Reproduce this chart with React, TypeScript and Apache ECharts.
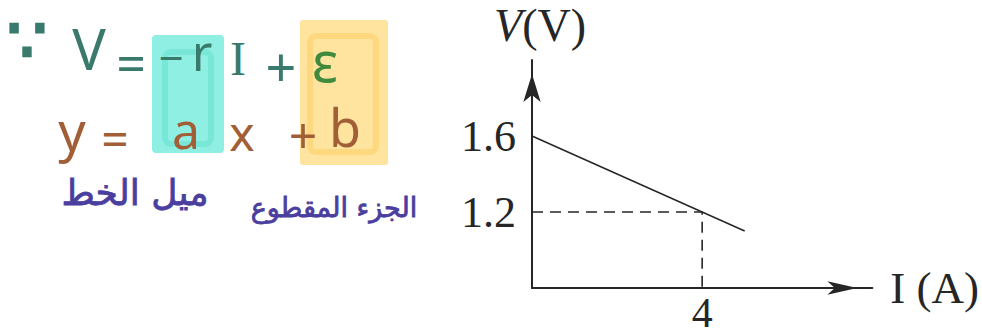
import React, { useEffect, useRef } from "react";
import * as echarts from "echarts";

// Terminal voltage V against current I for a cell: V = ε − rI
const currentA = [0, 5];
const voltageV = [1.6, 1.1];
const readingI = 4;
const readingV = 1.2;
const yTickLabels = ["1.2", "1.6"];
const xTickLabels = ["4"];

const Y_MIN = 0.8;
const Y_MAX = 2.0;
const X_MIN = 0;
const X_MAX = 8;

const INK = "#262626";
const SERIF = "'Liberation Serif', 'DejaVu Serif', serif";
const HAND = "'Noto Sans', 'DejaVu Sans', sans-serif";
const ARABIC = "'DejaVu Sans', 'Noto Sans', sans-serif";

const TEAL = "#3a7a6d";
const GREEN = "#3f8a3c";
const BROWN = "#a25f37";
const PURPLE = "#4a3e9e";

function glyph(text: string, x: number, y: number, size: number, fill: string, font = HAND, bold = 0) {
  return {
    type: "text",
    x,
    y,
    style: {
      text,
      fill,
      fontSize: size,
      fontFamily: font,
      align: "center",
      verticalAlign: "middle",
      stroke: bold ? fill : undefined,
      lineWidth: bold,
    },
  };
}

export default function App() {
  const ref = useRef<HTMLDivElement | null>(null);

  useEffect(() => {
    if (!ref.current) return;
    const chart = echarts.init(ref.current, undefined, { renderer: "svg" });

    const lineData = currentA.map((c, i) => [c, voltageV[i]]);
    const guideData = [
      [X_MIN, readingV],
      [readingI, readingV],
      [readingI, Y_MIN],
    ];

    chart.setOption({
      animation: false,
      backgroundColor: "#ffffff",
      grid: { left: 532, top: 60, width: 342, height: 228, containLabel: false },
      xAxis: {
        type: "value",
        min: X_MIN,
        max: X_MAX,
        interval: 1,
        name: "I (A)",
        nameLocation: "end",
        nameGap: 18,
        nameTextStyle: { fontFamily: SERIF, fontSize: 45, color: INK, verticalAlign: "middle" },
        axisLine: {
          show: true,
          onZero: false,
          symbol: ["none", "arrow"],
          symbolSize: [10, 30],
          symbolOffset: [0, -15],
          lineStyle: { color: INK, width: 2 },
        },
        axisTick: { show: false },
        splitLine: { show: false },
        axisLabel: {
          margin: 25,
          verticalAlign: "middle",
          lineHeight: 32,
          fontFamily: SERIF,
          fontSize: 42,
          color: INK,
          formatter: (v: number) => (xTickLabels.includes(String(v)) ? String(v) : ""),
        },
      },
      yAxis: {
        type: "value",
        min: Y_MIN,
        max: Y_MAX,
        interval: 0.4,
        name: "{i|V}{n|(V)}",
        nameLocation: "end",
        nameGap: 35,
        nameTextStyle: {
          verticalAlign: "middle",
          padding: [0, 0, 0, 16],
          rich: {
            i: { fontFamily: SERIF, fontSize: 46, fontStyle: "italic", color: INK, lineHeight: 44 },
            n: { fontFamily: SERIF, fontSize: 46, color: INK, lineHeight: 44 },
          },
        },
        axisLine: {
          show: true,
          onZero: false,
          symbol: ["none", "arrow"],
          symbolSize: [13, 28],
          symbolOffset: [0, -14],
          lineStyle: { color: INK, width: 2 },
        },
        axisTick: { show: false },
        splitLine: { show: false },
        axisLabel: {
          margin: 16,
          fontFamily: SERIF,
          fontSize: 44,
          color: INK,
          formatter: (v: number) => {
            const s = v.toFixed(1);
            return yTickLabels.includes(s) ? s : "";
          },
        },
      },
      series: [
        {
          type: "line",
          data: lineData,
          symbol: "none",
          lineStyle: { color: INK, width: 1.5 },
          silent: true,
        },
        {
          type: "line",
          data: guideData,
          symbol: "none",
          lineStyle: { color: INK, width: 1.6, type: [11, 7] },
          silent: true,
        },
      ],
      graphic: [
        // highlighter blocks behind the slope and intercept
        { type: "rect", shape: { x: 152, y: 35, width: 72, height: 118, r: 4 }, style: { fill: "#90efe3" } },
        { type: "rect", shape: { x: 165, y: 52, width: 46, height: 92, r: 6 }, style: { fill: "none", stroke: "#78e7d8", lineWidth: 6 } },
        { type: "rect", shape: { x: 300, y: 20, width: 88, height: 145, r: 3 }, style: { fill: "#fee49e" } },
        { type: "rect", shape: { x: 310, y: 36, width: 66, height: 116, r: 6 }, style: { fill: "none", stroke: "#fdd87e", lineWidth: 6 } },

        // V = −rI + ε
        glyph("∵", 27, 40, 62, TEAL, ARABIC, 3),
        glyph("V", 89, 48, 56, TEAL),
        glyph("=", 131, 62, 52, TEAL),
        glyph("−", 171, 57, 44, TEAL),
        glyph("r", 202, 52, 50, TEAL),
        glyph("I", 238, 58, 48, TEAL, SERIF),
        glyph("+", 281, 66, 54, TEAL),
        glyph("ε", 325, 60, 56, GREEN),

        // y = ax + b
        glyph("y", 72, 130, 54, BROWN),
        glyph("=", 115, 137, 48, BROWN),
        glyph("a", 186, 130, 50, BROWN),
        glyph("x", 242, 132, 48, BROWN),
        glyph("+", 303, 134, 50, BROWN),
        glyph("b", 345, 126, 52, BROWN),

        // labels for slope and intercept
        glyph("ميل الخط", 135, 192, 36, PURPLE, ARABIC, 0.8),
        glyph("الجزء المقطوع", 334, 207, 27, PURPLE, ARABIC, 0.8),
      ],
    });

    return () => chart.dispose();
  }, []);

  return (
    <div
      ref={ref}
      style={{ position: "absolute", left: 0, top: 0, width: 982, height: 336 }}
    />
  );
}
